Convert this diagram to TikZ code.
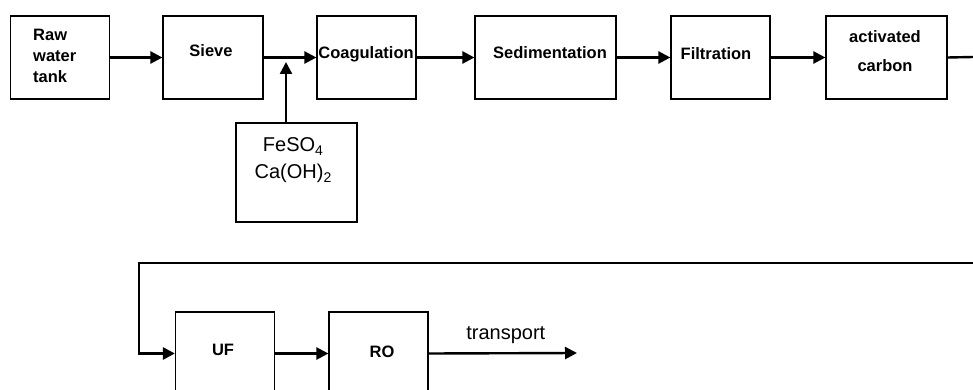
\documentclass[tikz,border=0pt]{standalone}
\usepackage{fontspec}
\setmainfont{Liberation Sans}
\usetikzlibrary{arrows.meta}
\newcommand{\chemsub}[1]{\raisebox{-0.45ex}{\fontsize{14}{14}\selectfont #1}}
\begin{document}
\begin{tikzpicture}[x=1pt,y=-1pt,
  stagebox/.style={draw, line width=1.2pt, minimum width=#1, minimum height=83pt, inner sep=0pt},
  stagebox/.default=99pt,
  stagetext/.style={font=\fontsize{16.5}{21}\selectfont\bfseries, align=center, inner sep=0pt},
  chemtext/.style={font=\fontsize{20}{27}\selectfont, align=center, inner sep=0pt},
  flow/.style={line width=2.4pt, -{Triangle[length=12pt,width=12pt]}},
  pipe/.style={line width=2.4pt}]
\useasboundingbox[fill=white] (0,0) rectangle (973,390);

% upper treatment line
\node[stagebox]        (raw)   at (60,57.5)   {};
\node[stagebox=100pt]  (sieve) at (213,57.5)  {};
\node[stagebox]        (coag)  at (366.5,57.5){};
\node[stagebox=141pt]  (sed)   at (545.5,57.5){};
\node[stagebox]        (filt)  at (720.5,57.5){};
\node[stagebox=121pt]  (ac)    at (886.5,57.5){};
\node[stagebox=121pt, minimum height=99pt] (chem) at (296.5,172.5) {};

\node[stagetext, align=left, anchor=west] (rawt) at (33,56) {Raw\\water\\tank};
\node[stagetext] (sievet) at (211,51) {Sieve};
\node[stagetext] (coagt)  at (366,54) {Coagulation};
\node[stagetext] (sedt)   at (550,53) {Sedimentation};
\node[stagetext] (filtt)  at (716,54) {Filtration};
\node[stagetext, font=\fontsize{16.5}{29}\selectfont\bfseries] (act) at (885,51) {activated\\carbon};
\node[chemtext] (chemt) at (293,160) {FeSO\chemsub{4}\\Ca(OH)\chemsub{2}};

% lower membrane line
\node[stagebox, minimum height=83pt] (uf) at (225,353.5) {};
\node[stagebox, minimum height=83pt] (ro) at (378.5,353.5) {};
\node[stagetext] (uft) at (223,350) {UF};
\node[stagetext] (rot) at (382,352) {RO};

\coordinate (mix)  at (286,57);
\coordinate (outR) at (973,57);
\coordinate (inR)  at (973,263);
\coordinate (bend) at (139,263);
\coordinate (out)  at (577,353);

% connectors
\draw[flow] (raw.east) -- (sieve.west);
\draw[flow] (sieve.east) -- (coag.west);
\draw[flow, shorten >=5pt] (chem.north -| mix) -- (mix);
\draw[flow] (coag.east) -- (sed.west);
\draw[flow] (sed.east) -- (filt.west);
\draw[flow] (filt.east) -- (ac.west);
\draw[pipe] (ac.east) -- (outR);
\draw[flow, line width=2.8pt] (inR) -- (bend) |- (uf.west);
\draw[flow] (uf.east) -- (ro.west);
\draw[flow] (ro.east) -- (out) node[pos=0.52, above=8pt, chemtext] (tr) {transport};
\end{tikzpicture}
\end{document}
